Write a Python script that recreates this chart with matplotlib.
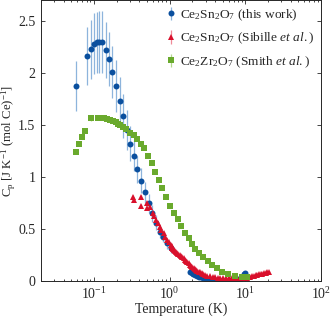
import matplotlib
matplotlib.use("Agg")
import matplotlib.pyplot as plt
from matplotlib.ticker import FixedLocator, FixedFormatter, LogLocator, NullFormatter

plt.rcParams['font.family'] = ['Liberation Serif', 'DejaVu Serif']
plt.rcParams['mathtext.fontset'] = 'custom'
plt.rcParams['mathtext.rm'] = 'Liberation Serif'
plt.rcParams['mathtext.it'] = 'Liberation Serif:italic'
plt.rcParams['mathtext.bf'] = 'Liberation Serif:bold'

# ---- data ----
T_this = [0.0585, 0.081, 0.0914, 0.101, 0.111, 0.117, 0.127, 0.143, 0.157, 0.176,
          0.197, 0.218, 0.243, 0.272, 0.303, 0.336, 0.376, 0.420, 0.469, 0.530,
          0.592, 0.661, 0.738, 0.826, 0.922, 1.03]
C_this = [1.873, 2.164, 2.225, 2.282, 2.292, 2.295, 2.295, 2.218, 2.129, 2.010,
          1.876, 1.732, 1.588, 1.45, 1.319, 1.204, 1.072, 0.963, 0.851, 0.746,
          0.650, 0.560, 0.474, 0.426, 0.362, 0.314]
E_this = [0.24, 0.28, 0.28, 0.29, 0.29, 0.30, 0.30, 0.27, 0.26, 0.25,
          0.25, 0.23, 0.21, 0.19, 0.17, 0.15, 0.13, 0.12, 0.10, 0.09,
          0.08, 0.07, 0.06, 0.055, 0.05, 0.045]

T_this_hi = [1.87, 1.95, 2.05, 2.15, 2.3, 2.45, 2.6, 2.8, 3.0, 3.25, 3.5, 3.8, 4.1,
             4.5, 4.9, 5.3, 5.8, 6.3, 6.9, 7.5, 8.0, 8.5, 9.0, 9.4, 9.7, 10.0]
C_this_hi = [0.09, 0.08, 0.07, 0.06, 0.05, 0.042, 0.035, 0.027, 0.021, 0.016, 0.012,
             0.009, 0.007, 0.005, 0.004, 0.004, 0.004, 0.005, 0.007, 0.011, 0.016,
             0.024, 0.035, 0.05, 0.065, 0.08]

T_sib = [0.33, 0.335, 0.42, 0.425, 0.50, 0.51, 0.55, 0.597, 0.63, 0.661, 0.70, 0.738,
         0.78, 0.834, 0.88, 0.922, 0.97, 1.03, 1.06, 1.09, 1.12, 1.15, 1.19, 1.23,
         1.27, 1.31, 1.36, 1.42, 1.47, 1.53, 1.59, 1.65, 1.71, 1.78, 1.85, 1.92,
         1.99, 2.07, 2.15, 2.23, 2.32, 2.41, 2.52, 2.65, 2.8, 2.95, 3.15, 3.4, 3.7,
         3.99, 4.3, 4.7, 5.1, 5.5, 6.0, 6.6, 7.2, 7.8, 8.4, 9.0, 9.9, 10.5, 11.0,
         11.6, 12.3, 13.0, 13.7, 14.4, 15.2, 16.0, 16.8, 17.6, 18.5, 19.5, 20.5]
C_sib = [0.81, 0.78, 0.81, 0.72, 0.75, 0.70, 0.71, 0.65, 0.62, 0.586, 0.555, 0.522,
         0.49, 0.458, 0.425, 0.394, 0.37, 0.346, 0.333, 0.32, 0.309, 0.298, 0.288,
         0.278, 0.268, 0.259, 0.248, 0.238, 0.228, 0.218, 0.206, 0.194, 0.182, 0.170,
         0.158, 0.146, 0.134, 0.122, 0.113, 0.105, 0.097, 0.090, 0.082, 0.074, 0.066,
         0.058, 0.052, 0.045, 0.040, 0.035, 0.032, 0.030, 0.028, 0.027, 0.027, 0.026,
         0.026, 0.026, 0.026, 0.026, 0.027, 0.030, 0.035, 0.040, 0.045, 0.050, 0.055,
         0.060, 0.064, 0.068, 0.072, 0.076, 0.080, 0.084, 0.088]
E_sib = [0.02, 0.02, 0.02, 0.02, 0.015, 0.015, 0.015, 0.015, 0.01, 0.01, 0.01, 0.01,
         0.01, 0.01, 0.01, 0.01, 0.01, 0.01] + [0.005] * 57

T_smith = [0.0574, 0.0635, 0.0702, 0.0762, 0.0905, 0.114, 0.137, 0.150, 0.162, 0.178,
           0.193, 0.209, 0.224, 0.245, 0.266, 0.304, 0.336, 0.371, 0.415, 0.464,
           0.519, 0.580, 0.648, 0.717, 0.802, 0.905, 1.02, 1.16, 1.29, 1.43, 1.61,
           1.78, 1.97, 2.18, 2.46, 2.80, 3.19, 3.60, 4.19, 4.88, 5.97, 7.32, 8.94, 10.4]
C_smith = [1.242, 1.316, 1.380, 1.444, 1.569, 1.569, 1.566, 1.556, 1.547, 1.537,
           1.530, 1.508, 1.499, 1.48, 1.457, 1.419, 1.402, 1.364, 1.316, 1.274,
           1.204, 1.130, 1.050, 0.970, 0.890, 0.804, 0.725, 0.650, 0.593, 0.528,
           0.464, 0.410, 0.353, 0.307, 0.266, 0.228, 0.192, 0.154, 0.122, 0.089,
           0.067, 0.051, 0.041, 0.041]
E_smith = [0.005, 0.005, 0.005, 0.005, 0.03] + [0.005] * 39

labels = ['Ce$_2$Sn$_2$O$_7$ (this work)',
          'Ce$_2$Sn$_2$O$_7$ (Sibille $et$ $al.$)',
          'Ce$_2$Zr$_2$O$_7$ (Smith $et$ $al.$)']
yticks = [0, 0.5, 1, 1.5, 2, 2.5]
yticklabels = ['0', '0.5', '1', '1.5', '2', '2.5']

# ---- figure ----
FS = 10
fig = plt.figure(figsize=(3.31, 3.21), dpi=100)
ax = fig.add_axes([41 / 331, 40 / 321, (321 - 41) / 331, 281 / 321])

blue, blue_e = '#0a4f9e', '#8db4dc'
red, red_e = '#d9102c', '#f08a98'
green, green_e = '#6aaa2d', '#b5d88f'

h1 = ax.errorbar(T_this, C_this, yerr=E_this, fmt='o', color=blue, ecolor=blue_e,
                 ms=4.3, mew=0, elinewidth=0.9, capsize=2.6, capthick=0.9, zorder=2)
ax.plot(T_this_hi, C_this_hi, 'o', color=blue, ms=4.3, mew=0, zorder=2)
h2 = ax.errorbar(T_sib, C_sib, yerr=E_sib, fmt='^', color=red, ecolor=red_e,
                 ms=4.6, mew=0, elinewidth=0.9, capsize=2.6, capthick=0.9, zorder=3)
h3 = ax.errorbar(T_smith, C_smith, yerr=E_smith, fmt='s', color=green, ecolor=green_e,
                 ms=4.0, mew=0, elinewidth=0.9, capsize=2.6, capthick=0.9, zorder=4)

ax.set_xscale('log')
ax.set_xlim(0.02, 100)
ax.set_ylim(0, 2.7)
ax.yaxis.set_major_locator(FixedLocator(yticks))
ax.yaxis.set_major_formatter(FixedFormatter(yticklabels))
ax.xaxis.set_major_locator(LogLocator(base=10, numticks=10))
ax.xaxis.set_minor_locator(LogLocator(base=10, subs=range(2, 10), numticks=20))
ax.xaxis.set_minor_formatter(NullFormatter())

axcol = '#262626'
for s in ax.spines.values():
    s.set_color(axcol)
    s.set_linewidth(0.7)
ax.tick_params(which='both', direction='in', top=True, right=True, colors=axcol,
               labelsize=FS, width=0.6)
ax.tick_params(which='major', length=3, pad=4)
ax.tick_params(which='minor', length=1.6)

ax.set_xlabel('Temperature (K)', fontsize=FS, color=axcol, labelpad=0)
ax.set_ylabel('C$_\\mathrm{p}$ [J K$^{-1}$ (mol Ce)$^{-1}$]', fontsize=9.2, color=axcol,
              labelpad=0)

leg = ax.legend([h1, h2, h3], labels, loc='upper right', frameon=False, fontsize=9.6,
                handlelength=0.6, handletextpad=0.4, labelspacing=0.6,
                borderaxespad=0.05, bbox_to_anchor=(1.0, 0.995))
for t in leg.get_texts():
    t.set_color(axcol)

fig.savefig('out.png', dpi=100)
